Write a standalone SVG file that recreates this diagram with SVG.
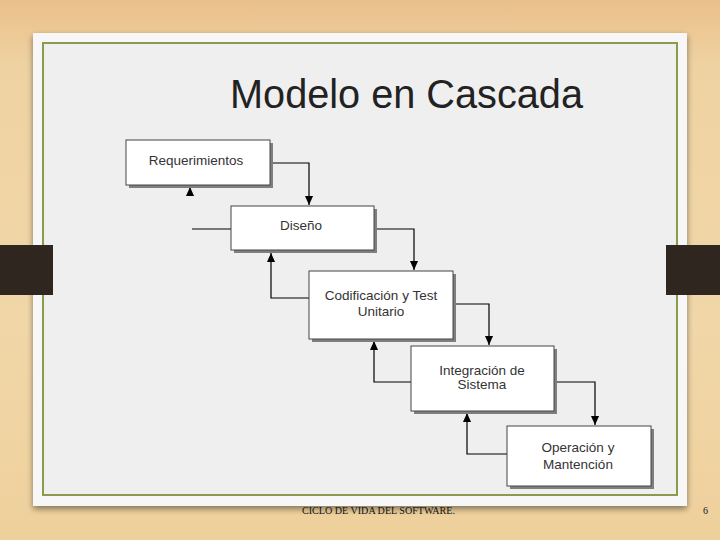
<svg xmlns="http://www.w3.org/2000/svg" width="720" height="540" viewBox="0 0 720 540">
<defs>
<linearGradient id="wood" x1="0" y1="0" x2="0" y2="1">
<stop offset="0" stop-color="#e9c08a"/>
<stop offset="0.12" stop-color="#efd2a2"/>
<stop offset="0.6" stop-color="#f1d7a8"/>
<stop offset="1" stop-color="#eed09c"/>
</linearGradient>
<filter id="ps" x="-5%" y="-5%" width="110%" height="115%">
<feGaussianBlur in="SourceAlpha" stdDeviation="3"/>
<feOffset dx="0" dy="3" result="b"/>
<feComponentTransfer><feFuncA type="linear" slope="0.45"/></feComponentTransfer>
<feMerge><feMergeNode/><feMergeNode in="SourceGraphic"/></feMerge>
</filter>
<marker id="ah" viewBox="0 0 10 10" refX="10" refY="5" markerWidth="9" markerHeight="9" markerUnits="userSpaceOnUse" orient="auto">
<path d="M0,0.5 L10,5 L0,9.5 Z" fill="#000"/>
</marker>
</defs>
<style>
.box{fill:#fff;stroke:#444;stroke-width:1}
.sh{fill:#7f7f7f}
.lbl{font-family:"Liberation Sans",Arial,sans-serif;font-size:13.5px;fill:#333;text-anchor:middle}
.ln{fill:none;stroke:#000;stroke-width:1.2}
.arr{fill:none;stroke:#000;stroke-width:1.2;marker-end:url(#ah)}
.tab{fill:#2f2620}
</style>
<rect x="0" y="0" width="720" height="540" fill="url(#wood)"/>
<rect x="33" y="33" width="654" height="473" fill="#f7f7f7" filter="url(#ps)"/>
<rect x="43" y="43" width="634" height="452" fill="#efefef" stroke="#8c9a4c" stroke-width="2"/>
<rect class="tab" x="0" y="245" width="53" height="50"/>
<rect class="tab" x="666" y="245" width="54" height="50"/>
<text x="230" y="108" font-family="Liberation Sans,Arial,sans-serif" font-size="40" fill="#222" textLength="353" lengthAdjust="spacingAndGlyphs">Modelo en Cascada</text>
<g id="connectors">
<path class="arr" d="M270,163 H309 V205"/>
<path class="arr" d="M374,229 H414 V270"/>
<path class="arr" d="M453,304 H489 V345"/>
<path class="arr" d="M554,382 H595 V425"/>
<path class="ln" d="M192,229 H231"/>
<path class="arr" d="M190,196 V187"/>
<path class="arr" d="M309,298 H271 V253"/>
<path class="arr" d="M411,382 H374 V341"/>
<path class="arr" d="M507,454 H467 V413"/>
</g>
<g id="requerimientos">
<rect class="sh" x="129" y="143" width="144" height="45"/>
<rect class="box" x="126" y="140" width="144" height="45"/>
<text class="lbl" x="196" y="165">Requerimientos</text>
</g>
<g id="diseno">
<rect class="sh" x="234" y="209" width="143" height="44"/>
<rect class="box" x="231" y="206" width="143" height="44"/>
<text class="lbl" x="301" y="230">Diseño</text>
</g>
<g id="codificacion">
<rect class="sh" x="312" y="274" width="144" height="68"/>
<rect class="box" x="309" y="271" width="144" height="68"/>
<text class="lbl" x="381" y="300">Codificación y Test</text>
<text class="lbl" x="381" y="316">Unitario</text>
</g>
<g id="integracion">
<rect class="sh" x="414" y="349" width="143" height="65"/>
<rect class="box" x="411" y="346" width="143" height="65"/>
<text class="lbl" x="482" y="375">Integración de</text>
<text class="lbl" x="482" y="389">Sistema</text>
</g>
<g id="operacion">
<rect class="sh" x="510" y="429" width="144" height="60"/>
<rect class="box" x="507" y="426" width="144" height="60"/>
<text class="lbl" x="578" y="452">Operación y</text>
<text class="lbl" x="578" y="469">Mantención</text>
</g>
<text x="302" y="514" font-family="Liberation Serif,Times New Roman,serif" font-size="10" fill="#111" textLength="153" lengthAdjust="spacingAndGlyphs">CICLO DE VIDA DEL  SOFTWARE.</text>
<text x="703" y="514" font-family="Liberation Serif,Times New Roman,serif" font-size="10" fill="#111">6</text>
</svg>
